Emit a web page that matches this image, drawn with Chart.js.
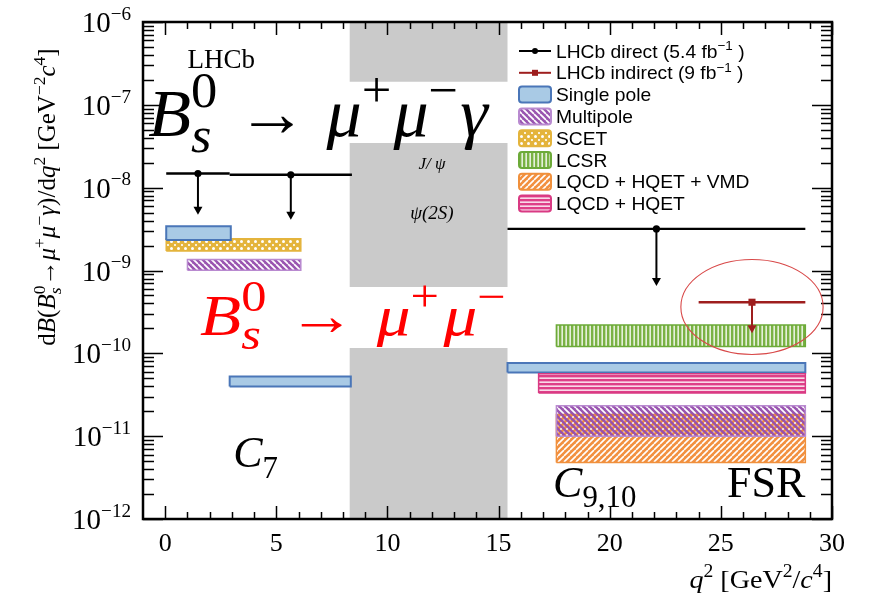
<!DOCTYPE html>
<html>
<head>
<meta charset="utf-8">
<title>Bs0 to mu mu gamma, dB/dq2</title>
<script src="https://cdn.jsdelivr.net/npm/chart.js@4.4.1/dist/chart.umd.min.js"></script>
<style>
  html, body { margin: 0; padding: 0; background: #fff; }
</style>
</head>
<body>
<canvas id="chart" width="869" height="594"></canvas>
<script>
// axis ranges and tick labels
const q2Range = [-1, 30];
const rateRange = [1e-12, 1e-6];
const xTickLabels = [0, 5, 10, 15, 20, 25, 30];
const yDecades = [-12, -11, -10, -9, -8, -7, -6];

// charmonium veto, cut where the decay labels sit
const vetoQ2 = [8.3, 15.4];
const vetoRates = [[1.9e-7, 1e-6], [6.3e-10, 3.45e-8], [1e-12, 1.16e-10]];

// LHCb direct search (5.4 fb-1): q2 bins, upper limits, arrow tips
const directBins = [[0.045, 2.9], [2.9, 8.4], [15.4, 28.8]];
const directLimits = [1.48e-8, 1.43e-8, 3.18e-9];
const directTips = [4.7e-9, 4.1e-9, 6.5e-10];

// LHCb indirect (9 fb-1)
const indirectBins = [[24.0, 28.8]];
const indirectLimits = [4.14e-10];
const indirectTips = [1.75e-10];

// predictions: [q2 low, q2 high, rate low, rate high]
const singlePole = [[0.045, 2.95, 2.33e-9, 3.43e-9], [2.9, 8.35, 3.98e-11, 5.25e-11], [15.4, 28.8, 5.87e-11, 7.62e-11]];
const multipole = [[1.0, 6.1, 1.01e-9, 1.36e-9], [17.6, 28.8, 1.0e-11, 2.33e-11]];
const scet = [[0.045, 6.1, 1.72e-9, 2.42e-9]];
const lcsr = [[17.6, 28.8, 1.21e-10, 2.2e-10]];
const lqcdHqetVmd = [[17.6, 28.8, 4.8e-12, 1.82e-11]];
const lqcdHqet = [[16.8, 28.8, 3.31e-11, 5.66e-11]];

const SERIF = "'Liberation Serif', 'DejaVu Serif', serif";
const SANS = "'Liberation Sans', Arial, sans-serif";

// ---- fill patterns ----
function makePattern(size, base, draw) {
    let c = document.createElement("canvas");
    c.width = size; c.height = size;
    let g = c.getContext("2d");
    g.fillStyle = base;
    g.fillRect(0, 0, size, size);
    draw(g, size);
    return g.createPattern(c, "repeat");
}

function diagonal(g, s, dir) {
    g.beginPath();
    for (let k = -s; k <= s; k += s) {
        if (dir > 0) { g.moveTo(k, s); g.lineTo(k + s, 0); }
        else { g.moveTo(k, 0); g.lineTo(k + s, s); }
    }
    g.stroke();
}

const fills = {
    single: "#a9cae5",
    // purple stripes with see-through gaps, so the band below shows
    multi: makePattern(6, "rgba(148,76,172,0.95)", (g, s) => {
        g.globalCompositeOperation = "destination-out";
        g.lineWidth = 1.7;
        diagonal(g, s, -1);
    }),
    scet: makePattern(7, "#e4b43c", (g, s) => {
        g.fillStyle = "#fff";
        g.beginPath(); g.arc(s / 2, s / 2, 1.5, 0, Math.PI * 2); g.fill();
        g.beginPath();
        [[0, 0], [s, 0], [0, s], [s, s]].forEach(p => { g.moveTo(p[0], p[1]); g.arc(p[0], p[1], 1.1, 0, Math.PI * 2); });
        g.fill();
    }),
    lcsr: makePattern(4, "#7ab244", (g, s) => {
        g.fillStyle = "#fff";
        g.fillRect(1.5, 0, 1.3, s);
    }),
    vmd: makePattern(6, "#f29040", (g, s) => {
        g.strokeStyle = "#fff";
        g.lineWidth = 1.6;
        diagonal(g, s, 1);
    }),
    hqet: makePattern(4, "#de3f88", (g, s) => {
        g.fillStyle = "#fff";
        g.fillRect(0, 1.5, s, 1.3);
    })
};

const edges = {
    single: "#4a76b8", multi: "#b98ad0", scet: "#e4b43c",
    lcsr: "#6caa38", vmd: "#f0903c", hqet: "#d93a83"
};

// ---- datasets ----
function rect(x0, x1, lo, hi) {
    return [{ x: x0, y: lo }, { x: x0, y: hi }, { x: x1, y: hi }, { x: x1, y: lo }, { x: x0, y: lo }];
}

let datasets = [];

vetoRates.forEach(r => {
    datasets.push({
        data: rect(vetoQ2[0], vetoQ2[1], r[0], r[1]),
        showLine: true, fill: "shape", backgroundColor: "#cacaca",
        borderWidth: 0, pointRadius: 0, order: 20
    });
});

function addBands(rows, key, order) {
    rows.forEach(r => {
        datasets.push({
            label: key,
            data: rect(r[0], r[1], r[2], r[3]),
            showLine: true, fill: "shape",
            backgroundColor: fills[key], borderColor: edges[key],
            borderWidth: key === "single" ? 2 : 1.5,
            borderJoinStyle: "miter", pointRadius: 0, order: order
        });
    });
}
addBands(lqcdHqetVmd, "vmd", 16);
addBands(multipole, "multi", 15);
addBands(scet, "scet", 14);
addBands(singlePole, "single", 13);
addBands(lcsr, "lcsr", 12);
addBands(lqcdHqet, "hqet", 11);

function addLimits(bins, limits, tips, color, marker, size) {
    bins.forEach((b, i) => {
        datasets.push({
            data: [{ x: b[0], y: limits[i] }, { x: (b[0] + b[1]) / 2, y: limits[i] }, { x: b[1], y: limits[i] }],
            tip: tips[i],
            showLine: true, borderColor: color, borderWidth: 2.4,
            backgroundColor: color, pointStyle: marker,
            pointRadius: c => c.dataIndex === 1 ? size : 0,
            pointBorderWidth: 0, order: 1
        });
    });
}
addLimits(directBins, directLimits, directTips, "#000", "circle", 3.6);
addLimits(indirectBins, indirectLimits, indirectTips, "#9e1e1e", "rect", 5);

// ---- rich text (super/subscripts) ----
// segment flags: i italic, u superscript, d subscript, b stacked on previous
function richText(ctx, segs, x, y, size, fam, color, align, opts) {
    opts = opts || {};
    let supK = opts.supK || 0.7, gap = opts.gap || 0, sx0 = opts.scaleX || 1;
    let cx = 0, ps = 0, pe = 0, items = [];
    segs.forEach(s => {
        let t = s[0], f = s[1] || "";
        let small = f.includes("u") || f.includes("d");
        let font = (f.includes("i") ? "italic " : "") + (small ? size * supK : size) + "px " + fam;
        ctx.font = font;
        let w = ctx.measureText(t).width;
        let sx = f.includes("b") ? ps : cx + (cx > 0 && !small ? gap : 0);
        let dy = f.includes("u") ? -size * 0.42 : f.includes("d") ? size * 0.24 : 0;
        items.push({ t, font, x: sx, dy });
        let end = sx + w;
        cx = f.includes("b") ? Math.max(pe, end) : end;
        ps = sx; pe = end;
    });
    let total = cx * sx0;
    let x0 = align === "right" ? x - total : align === "center" ? x - total / 2 : x;
    ctx.save();
    ctx.translate(x0, y);
    ctx.scale(sx0, 1);
    ctx.fillStyle = color;
    ctx.textAlign = "left";
    ctx.textBaseline = "alphabetic";
    items.forEach(it => { ctx.font = it.font; ctx.fillText(it.t, it.x, it.dy); });
    ctx.restore();
    return total;
}

// ---- axes frame, inward ticks and labels ----
const frame = {
    id: "frame",
    afterDatasetsDraw(chart) {
        let ctx = chart.ctx, a = chart.chartArea;
        let xs = chart.scales.x, ys = chart.scales.y;
        ctx.save();
        ctx.strokeStyle = "#000";
        ctx.lineWidth = 1.5;
        ctx.beginPath();
        yDecades.forEach(e => {
            for (let m = 1; m <= 9; m++) {
                let v = m * Math.pow(10, e);
                if (v > rateRange[1] * 1.0001) break;
                let py = Math.round(ys.getPixelForValue(v)) + 0.5;
                let len = m === 1 ? 20 : 11;
                ctx.moveTo(a.left, py); ctx.lineTo(a.left + len, py);
                ctx.moveTo(a.right, py); ctx.lineTo(a.right - len, py);
            }
        });
        for (let q = 0; q <= q2Range[1]; q++) {
            let px = Math.round(xs.getPixelForValue(q)) + 0.5;
            let len = q % 5 === 0 ? 13 : 7;
            ctx.moveTo(px, a.bottom); ctx.lineTo(px, a.bottom - len);
            ctx.moveTo(px, a.top); ctx.lineTo(px, a.top + len);
        }
        ctx.stroke();
        ctx.lineWidth = 2.5;
        ctx.strokeRect(a.left, a.top, a.right - a.left, a.bottom - a.top);

        xTickLabels.forEach(q => {
            richText(ctx, [[String(q)]], xs.getPixelForValue(q), a.bottom + 32, 26, SERIF, "#000", "center");
        });
        yDecades.forEach(e => {
            richText(ctx, [["10"], ["\u2212" + (-e), "u"]], a.left - 12, ys.getPixelForValue(Math.pow(10, e)) + 10, 29, SERIF, "#000", "right", { supK: 0.66 });
        });

        // axis titles
        richText(ctx, [["q", "i"], ["2", "u"], [" [GeV"], ["2", "u"], ["/"], ["c", "i"], ["4", "u"], ["]"]],
            a.right, a.bottom + 69, 26, SERIF, "#000", "right", { scaleX: 1.08 });
        ctx.translate(55, 197);
        ctx.rotate(-Math.PI / 2);
        richText(ctx, [["d"], ["B", "i"], ["("], ["B", "i"], ["0", "u"], ["s", "idb"], ["\u2192"], ["\u03bc", "i"], ["+", "u"],
            ["\u03bc", "i"], ["\u2212", "u"], ["\u03b3", "i"], [")/d"], ["q", "i"], ["2", "u"], [" [GeV"], ["\u22122", "u"],
            ["c", "i"], ["4", "u"], ["]"]], 0, 0, 25, SERIF, "#000", "center");
        ctx.restore();
    }
};

// ---- upper limit arrows ----
const limitArrows = {
    id: "limitArrows",
    afterDatasetsDraw(chart) {
        let ctx = chart.ctx, ys = chart.scales.y;
        chart.data.datasets.forEach((ds, i) => {
            if (ds.tip === undefined) return;
            let p = chart.getDatasetMeta(i).data[1];
            let y1 = ys.getPixelForValue(ds.tip);
            ctx.save();
            ctx.strokeStyle = ds.borderColor;
            ctx.fillStyle = ds.borderColor;
            ctx.lineWidth = 2;
            ctx.beginPath();
            ctx.moveTo(p.x, p.y); ctx.lineTo(p.x, y1 - 6);
            ctx.stroke();
            ctx.beginPath();
            ctx.moveTo(p.x - 4.5, y1 - 8); ctx.lineTo(p.x + 4.5, y1 - 8); ctx.lineTo(p.x, y1);
            ctx.closePath(); ctx.fill();
            ctx.restore();
        });
    }
};

// ---- labels written on the plot ----
const annotations = {
    id: "annotations",
    afterDatasetsDraw(chart) {
        let ctx = chart.ctx, xs = chart.scales.x, ys = chart.scales.y;
        let X = v => xs.getPixelForValue(v), Y = v => ys.getPixelForValue(v);
        ctx.save();
        // circled indirect limit
        ctx.strokeStyle = "#d84848";
        ctx.lineWidth = 1.1;
        let ex0 = X(23.2), ex1 = X(29.6), ey0 = Y(1.36e-9), ey1 = Y(9.7e-11);
        ctx.beginPath();
        ctx.ellipse((ex0 + ex1) / 2, (ey0 + ey1) / 2, (ex1 - ex0) / 2, (ey1 - ey0) / 2, 0, 0, Math.PI * 2);
        ctx.stroke();

        richText(ctx, [["LHCb"]], X(1.0), Y(2.75e-7), 27, SERIF, "#000", "left");
        richText(ctx, [["J/ \u03c8", "i"]], X(12.0), Y(1.67e-8), 17, SERIF, "#000", "center");
        richText(ctx, [["\u03c8(2S)", "i"]], X(12.0), Y(4.2e-9), 19, SERIF, "#000", "center");

        let mumu = [["B", "i"], ["0", "u"], ["s", "idb"], [" \u2192 "], ["\u03bc", "i"], ["+", "u"], ["\u03bc", "i"], ["\u2212", "u"]];
        richText(ctx, mumu.concat([["\u03b3", "i"]]), X(-0.76), Y(4.2e-8), 68, SERIF, "#000", "left", { supK: 0.75, gap: 2, scaleX: 1.03 });
        richText(ctx, mumu, X(1.57), Y(1.67e-10), 58, SERIF, "#f00", "left", { supK: 0.75, gap: 4, scaleX: 1.16 });

        richText(ctx, [["C", "i"], ["7", "d"]], X(3.06), Y(4.2e-12), 44, SERIF, "#000", "left");
        richText(ctx, [["C", "i"], ["9,10", "d"]], X(17.45), Y(1.86e-12), 44, SERIF, "#000", "left");
        richText(ctx, [["FSR"]], X(25.28), Y(1.86e-12), 44, SERIF, "#000", "left");
        ctx.restore();
    }
};

// ---- legend in the upper right of the plot ----
const legendRows = [
    { kind: "line", color: "#000", marker: "circle", text: [["LHCb direct (5.4 fb"], ["\u22121", "u"], [" )"]] },
    { kind: "line", color: "#9e1e1e", marker: "rect", text: [["LHCb indirect (9 fb"], ["\u22121", "u"], [" )"]] },
    { kind: "box", key: "single", text: [["Single pole"]] },
    { kind: "box", key: "multi", text: [["Multipole"]] },
    { kind: "box", key: "scet", text: [["SCET"]] },
    { kind: "box", key: "lcsr", text: [["LCSR"]] },
    { kind: "box", key: "vmd", text: [["LQCD + HQET + VMD"]] },
    { kind: "box", key: "hqet", text: [["LQCD + HQET"]] }
];

const legendBox = {
    id: "legendBox",
    afterDraw(chart) {
        let ctx = chart.ctx, a = chart.chartArea;
        let x0 = a.right - 314, y0 = a.top + 29;
        ctx.save();
        legendRows.forEach((row, i) => {
            let cy = y0 + i * 21.8;
            if (row.kind === "line") {
                ctx.strokeStyle = row.color; ctx.fillStyle = row.color;
                ctx.lineWidth = 2;
                ctx.beginPath(); ctx.moveTo(x0 + 1, cy); ctx.lineTo(x0 + 33, cy); ctx.stroke();
                if (row.marker === "circle") {
                    ctx.beginPath(); ctx.arc(x0 + 17, cy, 3, 0, Math.PI * 2); ctx.fill();
                } else {
                    ctx.fillRect(x0 + 14, cy - 3, 6, 6);
                }
            } else {
                ctx.beginPath();
                ctx.roundRect(x0 + 1, cy - 8, 32, 16, 3);
                ctx.fillStyle = "#fff"; ctx.fill();
                ctx.fillStyle = fills[row.key]; ctx.fill();
                ctx.strokeStyle = edges[row.key]; ctx.lineWidth = 2; ctx.stroke();
            }
            richText(ctx, row.text, x0 + 38, cy + 6.5, 18.5, SANS, "#000", "left", { scaleX: 1.04 });
        });
        ctx.restore();
    }
};

new Chart(document.getElementById("chart"), {
    type: "scatter",
    data: { datasets: datasets },
    options: {
        responsive: false,
        animation: false,
        devicePixelRatio: 1,
        layout: { padding: { left: 143, right: 37, top: 22, bottom: 75 } },
        elements: { line: { tension: 0 } },
        plugins: { legend: { display: false }, tooltip: { enabled: false } },
        scales: {
            x: { type: "linear", min: q2Range[0], max: q2Range[1], display: false },
            y: { type: "logarithmic", min: rateRange[0], max: rateRange[1], display: false }
        }
    },
    plugins: [frame, limitArrows, annotations, legendBox]
});
</script>
</body>
</html>
